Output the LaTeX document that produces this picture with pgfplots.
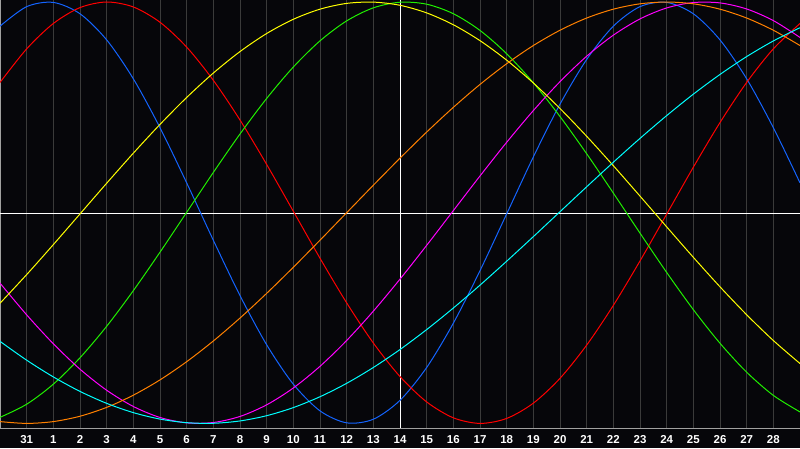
\documentclass[border=0pt]{standalone}
\usepackage{fontspec}
\setmainfont{Liberation Sans}
\usepackage{pgfplots}
\usepackage{pgfplotstable}
\pgfplotsset{compat=1.18}

\definecolor{bg}{RGB}{6,6,10}
\definecolor{gridc}{RGB}{58,58,58}
\definecolor{framec}{RGB}{160,160,160}
\definecolor{cPhys}{RGB}{20,100,255}
\definecolor{cEmo}{RGB}{255,0,0}
\definecolor{cIntel}{RGB}{32,240,0}
\definecolor{cIntu}{RGB}{255,0,255}
\definecolor{cAest}{RGB}{255,255,0}
\definecolor{cAware}{RGB}{255,128,0}
\definecolor{cSpir}{RGB}{0,255,255}

% day index: 0 = the 31st, 1..28 = days of the month
\pgfplotstableread{
t   phys    emo     intel   intu    aest    aware   spir
-1  0.8854  0.6181 -0.9713 -0.3341 -0.4298 -0.9914 -0.6105
0   0.9780  0.7775 -0.9089 -0.4847 -0.2937 -1.0000 -0.6999
1   0.9980  0.8980 -0.8137 -0.6219 -0.1514 -0.9914 -0.7793
2   0.9441  0.9734 -0.6884 -0.7426 -0.0058 -0.9659 -0.8481
3   0.8202  1.0000 -0.5391 -0.8426  0.1399 -0.9239 -0.9048
4   0.6355  0.9764 -0.3699 -0.9197  0.2825 -0.8660 -0.9488
5   0.4034  0.9039 -0.1874 -0.9718  0.4191 -0.7934 -0.9795
6   0.1416  0.7860  0.0019 -0.9974  0.5469 -0.7071 -0.9965
7  -0.1307  0.6284  0.1912 -0.9957  0.6628 -0.6088 -0.9994
8  -0.3933  0.4399  0.3735 -0.9669  0.7648 -0.5000 -0.9883
9  -0.6267  0.2290  0.5423 -0.9118  0.8505 -0.3827 -0.9634
10 -0.8138  0.0068  0.6915 -0.8318  0.9180 -0.2588 -0.9249
11 -0.9404 -0.2159  0.8156 -0.7290  0.9660 -0.1305 -0.8734
12 -0.9973 -0.4279  0.9104 -0.6064  0.9934  0.0000 -0.8097
13 -0.9802 -0.6184  0.9723 -0.4672  0.9995  0.1305 -0.7346
14 -0.8904 -0.7777  0.9990 -0.3153  0.9844  0.2588 -0.6494
15 -0.7346 -0.8980  0.9896 -0.1549  0.9483  0.3827 -0.5547
16 -0.5244 -0.9734  0.9444  0.0099  0.8920  0.5000 -0.4524
17 -0.2751 -1.0000  0.8651  0.1744  0.8166  0.6088 -0.3438
18 -0.0056 -0.9764  0.7545  0.3341  0.7240  0.7071 -0.2302
19  0.2646 -0.9039  0.6166  0.4847  0.6158  0.7934 -0.1136
20  0.5151 -0.7860  0.4565  0.6219  0.4945  0.8660  0.0047
21  0.7272 -0.6284  0.2798  0.7426  0.3627  0.9239  0.1229
22  0.8852 -0.4399  0.0932  0.8426  0.2231  0.9659  0.2395
23  0.9780 -0.2290 -0.0969  0.9197  0.0788  0.9914  0.3527
24  0.9980 -0.0068 -0.2835  0.9718 -0.0671  1.0000  0.4608
25  0.9441  0.2159 -0.4600  0.9974 -0.2117  0.9914  0.5626
26  0.8202  0.4279 -0.6196  0.9957 -0.3517  0.9659  0.6562
27  0.6355  0.6184 -0.7570  0.9669 -0.4843  0.9239  0.7410
28  0.4034  0.7777 -0.8670  0.9118 -0.6066  0.8660  0.8152
29  0.1416  0.8980 -0.9456  0.8318 -0.7158  0.7934  0.8780
}\cycles

\begin{document}
\begin{tikzpicture}
\useasboundingbox (0,0) rectangle (800pt,448pt);
\fill[bg] (0,0) rectangle (800pt,448pt);
\begin{axis}[
  at={(0pt,20pt)}, anchor=south west,
  scale only axis, width=800pt, height=428pt,
  xmin=-1, xmax=29, ymin=-1.0218, ymax=1.0095,
  xtick={0,...,28},
  xticklabels={31,1,2,3,4,5,6,7,8,9,10,11,12,13,14,15,16,17,18,19,20,21,22,23,24,25,26,27,28},
  ytick=\empty,
  major tick length=0pt,
  xmajorgrids,
  major grid style={gridc, line width=1pt},
  axis line style={framec, line width=1pt},
  xticklabel style={font=\fontsize{11.5}{13}\selectfont\bfseries, text=white, anchor=base, yshift=-15pt},
  every axis plot/.append style={line width=1pt, smooth, no markers},
]
\draw[white, line width=1pt] (axis cs:-1,-0.006) -- (axis cs:29,-0.006);
\draw[white, line width=1pt] (axis cs:14,-1.0218) -- (axis cs:14,1.0095);
\addplot[cPhys]  table[x=t, y=phys]  {\cycles};
\addplot[cEmo]   table[x=t, y=emo]   {\cycles};
\addplot[cIntel] table[x=t, y=intel] {\cycles};
\addplot[cIntu]  table[x=t, y=intu]  {\cycles};
\addplot[cAest]  table[x=t, y=aest]  {\cycles};
\addplot[cAware] table[x=t, y=aware] {\cycles};
\addplot[cSpir]  table[x=t, y=spir]  {\cycles};
\end{axis}
\end{tikzpicture}
\end{document}
